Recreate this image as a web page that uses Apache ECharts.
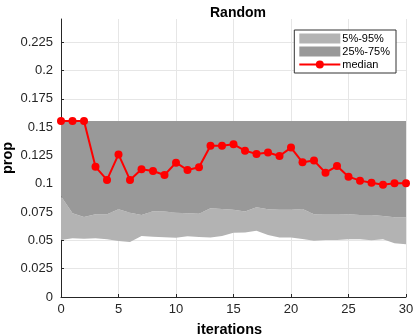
<!DOCTYPE html>
<html>
<head>
<meta charset="utf-8">
<script src="https://cdn.jsdelivr.net/npm/echarts@6/dist/echarts.min.js"></script>
<style>
  html, body { margin: 0; padding: 0; background: #fff; }
  #chart { width: 414px; height: 336px; }
</style>
</head>
<body>
<div id="chart"></div>
<script>
// values
const iterations = ['0','1','2','3','4','5','6','7','8','9','10','11','12','13','14','15','16','17','18','19','20','21','22','23','24','25','26','27','28','29','30']
const p5 = [0.0503,0.0518,0.0515,0.052,0.051,0.0495,0.0486,0.0539,0.0533,0.0527,0.0524,0.0536,0.053,0.0525,0.0539,0.0568,0.057,0.0586,0.0548,0.0525,0.0525,0.0513,0.0498,0.0504,0.0504,0.051,0.051,0.0501,0.051,0.0474,0.0466]
const p25 = [0.089,0.074,0.0707,0.073,0.073,0.0775,0.0745,0.0725,0.0757,0.0755,0.0745,0.074,0.0735,0.0783,0.0778,0.077,0.0755,0.0793,0.0776,0.077,0.077,0.0778,0.073,0.0733,0.0733,0.073,0.0725,0.0725,0.0716,0.0704,0.0704]
const p75 = [0.1555,0.1555,0.1555,0.1555,0.1555,0.1555,0.1555,0.1555,0.1555,0.1555,0.1555,0.1555,0.1555,0.1555,0.1555,0.1555,0.1555,0.1555,0.1555,0.1555,0.1555,0.1555,0.1555,0.1555,0.1555,0.1555,0.1555,0.1555,0.1555,0.1555,0.1555]
const median = [0.1555,0.1555,0.1555,0.115,0.1034,0.126,0.1034,0.1128,0.1113,0.1078,0.1187,0.1122,0.1146,0.1337,0.1337,0.1349,0.1293,0.1264,0.1276,0.1246,0.132,0.119,0.1205,0.1098,0.1157,0.1063,0.1028,0.101,0.0992,0.1004,0.1004]
const yTicks = [0,0.025,0.05,0.075,0.1,0.125,0.15,0.175,0.2,0.225]

const font = '"Liberation Sans", Arial, sans-serif'
const lightGray = '#b3b3b3'
const darkGray = '#999999'

// stacked bands: transparent base, then light (5-25), then dark (25-75)
const lightBand = p25.map((v, i) => v - p5[i])
const darkBand = p75.map((v, i) => v - p25[i])

const chart = echarts.init(document.getElementById('chart'))
chart.setOption({
  animation: false,
  title: {
    text: 'Random',
    left: 233,
    textAlign: 'center',
    top: 1,
    textStyle: { fontFamily: font, fontSize: 14, fontWeight: 'bold', color: '#000' }
  },
  grid: { left: 61, right: 8, top: 19, bottom: 39, outerBoundsMode: 'none' },
  legend: {
    right: 18,
    top: 30,
    orient: 'vertical',
    itemWidth: 41,
    itemHeight: 10,
    itemGap: 2,
    padding: [3, 6, 3, 4],
    backgroundColor: '#fff',
    borderColor: '#333',
    borderWidth: 1,
    textStyle: { fontFamily: font, fontSize: 11, color: '#000', padding: [0, 0, 0, -3] },
    data: [
      { name: '5%-95%', icon: 'rect' },
      { name: '25%-75%', icon: 'rect' },
      { name: 'median' }
    ]
  },
  xAxis: {
    type: 'category',
    data: iterations,
    boundaryGap: false,
    name: 'iterations',
    nameLocation: 'middle',
    nameGap: 25,
    nameMoveOverlap: false,
    nameTextStyle: { fontFamily: font, fontSize: 14.5, fontWeight: 'bold', color: '#000', padding: [0, 8, 0, 0] },
    axisLine: { lineStyle: { color: '#262626', width: 1 } },
    axisTick: { inside: true, length: 3, interval: 4, lineStyle: { color: '#262626' } },
    axisLabel: { fontFamily: font, fontSize: 13, color: '#262626', margin: 6, interval: 4 },
    splitLine: { show: true, interval: 4, lineStyle: { color: '#e6e6e6', width: 1 } }
  },
  yAxis: {
    type: 'value',
    min: 0,
    max: 0.2456,
    interval: 0.025,
    name: 'prop',
    nameLocation: 'middle',
    nameGap: 46,
    nameMoveOverlap: false,
    nameTextStyle: { fontFamily: font, fontSize: 14.5, fontWeight: 'bold', color: '#000' },
    axisLine: { show: true, lineStyle: { color: '#262626', width: 1 } },
    axisTick: { show: true, inside: true, length: 3, lineStyle: { color: '#262626' } },
    axisLabel: {
      fontFamily: font, fontSize: 13, color: '#262626', margin: 8, showMaxLabel: false,
      formatter: v => (yTicks.some(t => Math.abs(t - v) < 1e-9) ? String(+v.toFixed(3)) : '')
    },
    splitLine: { show: true, showMaxLine: false, lineStyle: { color: '#e6e6e6', width: 1 } }
  },
  series: [
    {
      name: 'base',
      type: 'line',
      stack: 'band',
      data: p5,
      symbol: 'none',
      lineStyle: { width: 0 },
      silent: true
    },
    {
      name: '5%-95%',
      type: 'line',
      stack: 'band',
      data: lightBand,
      symbol: 'none',
      lineStyle: { width: 0 },
      itemStyle: { color: lightGray },
      areaStyle: { color: lightGray, opacity: 1 }
    },
    {
      name: '25%-75%',
      type: 'line',
      stack: 'band',
      data: darkBand,
      symbol: 'none',
      lineStyle: { width: 0 },
      itemStyle: { color: darkGray },
      areaStyle: { color: darkGray, opacity: 1 }
    },
    {
      name: 'median',
      type: 'line',
      data: median,
      symbol: 'circle',
      symbolSize: 8,
      showSymbol: true,
      showAllSymbol: true,
      lineStyle: { color: '#ff0000', width: 2 },
      itemStyle: { color: '#ff0000' },
      z: 5
    }
  ]
})
</script>
</body>
</html>
